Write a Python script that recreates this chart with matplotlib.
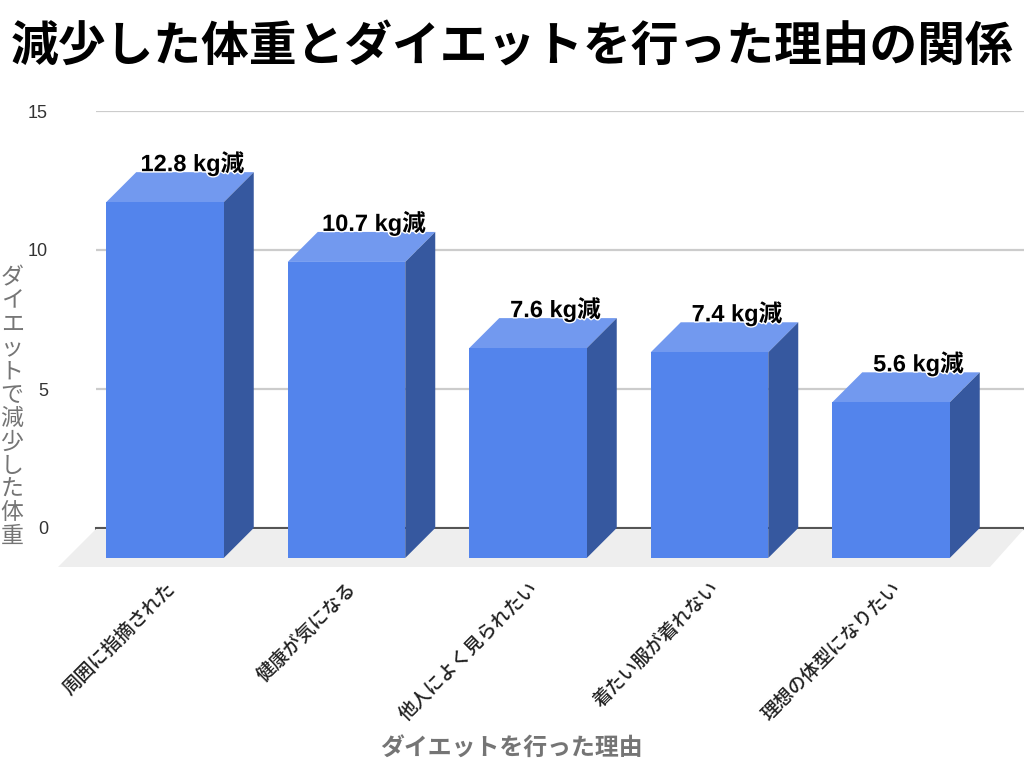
import matplotlib
matplotlib.use("Agg")
import matplotlib.pyplot as plt
from matplotlib.patches import Polygon
import matplotlib.patheffects as pe

title = "減少した体重とダイエットを行った理由の関係"
categories = ["周囲に指摘された", "健康が気になる", "他人によく見られたい", "着たい服が着れない", "理想の体型になりたい"]
values = [12.8, 10.65, 7.55, 7.4, 5.6]
value_labels = ["12.8 kg減", "10.7 kg減", "7.6 kg減", "7.4 kg減", "5.6 kg減"]
y_ticks = [0, 5, 10, 15]
x_title = "ダイエットを行った理由"
y_title = "ダイエットで減少した体重"

W, H = 1024, 768
PX_UNIT = 27.8
DEPTH = 30
BASE_PX = 558
FIRST_X = 165
STEP = 181.5
BAR_W = 117.5 / STEP
FRONT, TOP, SIDE = "#5384ec", "#7299ef", "#36589f"
CJK = "Noto Sans CJK JP"
LATIN = ["Liberation Sans", CJK]

fig = plt.figure(figsize=(W / 100, H / 100), dpi=100, facecolor="white")

# back wall: real value axis with gridlines
back = fig.add_axes([96 / W, (H - 528) / H, (W - 96) / W, (528 - 111) / H])
back.set_xlim(0, 1)
back.set_ylim(0, 15)
back.set_yticks(y_ticks)
back.set_xticks([])
back.grid(axis="y", color="#cccccc", lw=1.6, zorder=1)
back.tick_params(axis="y", length=0, pad=34.5, labelsize=13, labelcolor="#333333")
for t in back.get_yticklabels():
    t.set_family(LATIN)
    t.set_va("center_baseline")
for s in back.spines.values():
    s.set_visible(False)
back.axhline(0, color="#555555", lw=2.2, zorder=2, clip_on=False)

# front plane
ax = fig.add_axes([0, (H - BASE_PX) / H, 1, BASE_PX / H])
ax.patch.set_visible(False)
ax.set_xlim(-FIRST_X / STEP, (W - FIRST_X) / STEP)
ax.set_ylim(0, BASE_PX / PX_UNIT)
for s in ax.spines.values():
    s.set_visible(False)
ax.yaxis.set_visible(False)

dx = DEPTH / STEP
dy = DEPTH / PX_UNIT

px = lambda p: (p - FIRST_X) / STEP
floor_y0 = -9 / PX_UNIT
floor_y1 = 29 / PX_UNIT
ax.add_patch(Polygon([(px(58), floor_y0), (px(96), floor_y1), (px(W), floor_y1), (px(990), floor_y0)],
                     closed=True, fc="#eeeeee", ec="none", zorder=1, clip_on=False))

xs = list(range(len(values)))
ax.bar(xs, values, width=BAR_W, color=FRONT, edgecolor="none", zorder=4, clip_on=False)
for x, v in zip(xs, values):
    l, r = x - BAR_W / 2, x + BAR_W / 2
    ax.add_patch(Polygon([(l, v), (r, v), (r + dx, v + dy), (l + dx, v + dy)], closed=True, fc=TOP, ec="none", zorder=3))
    ax.add_patch(Polygon([(r, 0), (r + dx, dy), (r + dx, v + dy), (r, v)], closed=True, fc=SIDE, ec="none", zorder=3))

for x, v, lab in zip(xs, values, value_labels):
    ax.annotate(lab, (x, v + dy), xytext=(27.5, 1), textcoords="offset pixels", ha="center", va="baseline",
                fontsize=17, fontweight="bold", family=LATIN, color="black", zorder=6,
                path_effects=[pe.withStroke(linewidth=2, foreground="white")])

ax.set_xticks(xs)
ax.set_xticklabels(categories, rotation=45, ha="right", va="top", rotation_mode="anchor",
                   fontsize=13.5, family=CJK, fontweight="medium", color="#222222")
ax.tick_params(axis="x", length=0, pad=15)

fig.text(512.5 / W, 1 - 47.5 / H, title, ha="center", va="center", fontsize=34.4, fontweight="bold", family=CJK, color="black")
fig.text(511 / W, 1 - 748.5 / H, x_title, ha="center", va="center", fontsize=17.2, fontweight="bold", family=CJK, color="#757575")
fig.text(12 / W, 1 - 407 / H, "\n".join(y_title), ha="center", va="center", fontsize=16.5, family=CJK, color="#757575",
         linespacing=1.03)

fig.savefig("out.png", dpi=100)
